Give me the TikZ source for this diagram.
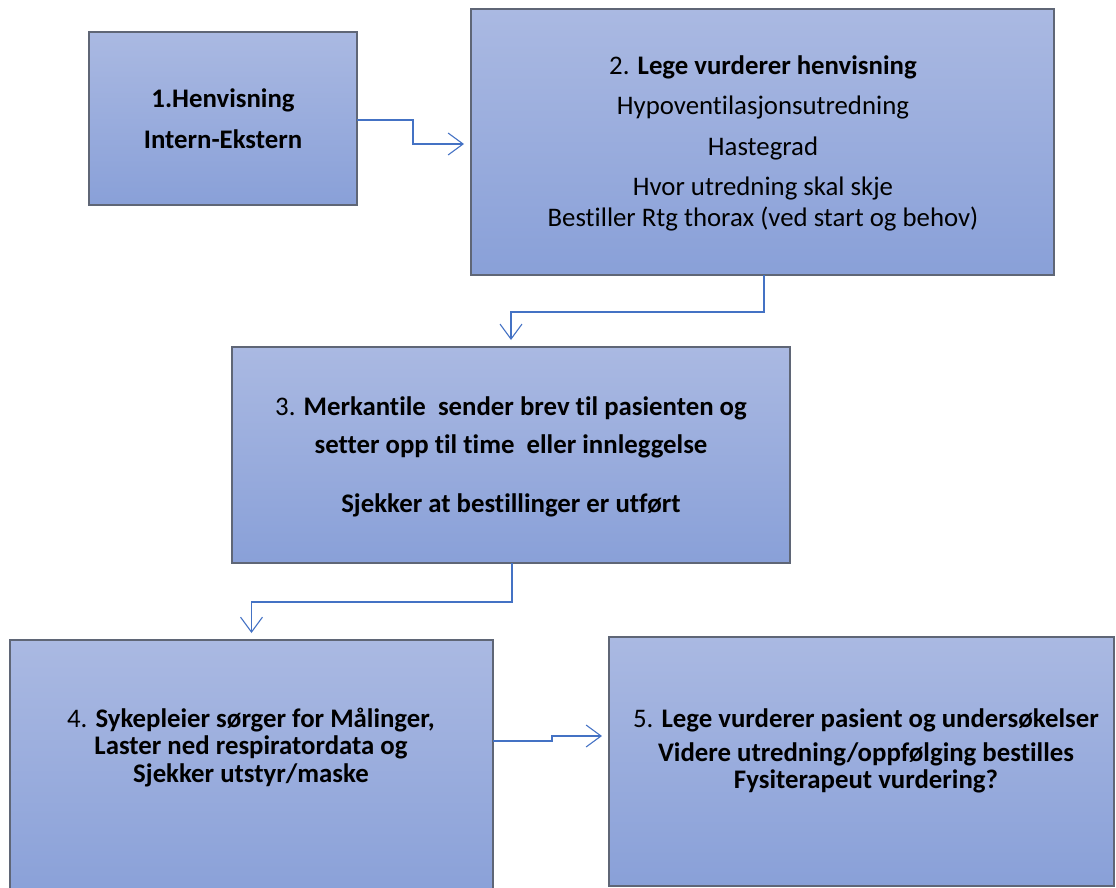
\documentclass[tikz,border=0pt]{standalone}
\usepackage{fontspec}
\setmainfont{Carlito}[RawFeature={-liga;-clig;-calt;-dlig}]
\usetikzlibrary{arrows.meta}
\definecolor{boxtop}{RGB}{170,185,226}
\definecolor{boxbot}{RGB}{137,160,216}
\definecolor{boxline}{RGB}{95,102,118}
\definecolor{conncol}{RGB}{68,114,196}
\tikzset{
  box/.style={draw=boxline, line width=1.4pt, top color=boxtop, bottom color=boxbot,
    inner sep=0pt, outer sep=0pt},
  txt/.style={font=\fontsize{26.8}{32}\selectfont, inner sep=0pt, anchor=center},
  conn/.style={draw=conncol, line width=1.1pt,
    -{Straight Barb[length=15pt,width=22pt,line width=1.1pt]}},
}
\begin{document}
\begin{tikzpicture}[x=1pt,y=-1pt]
\useasboundingbox (0,0) rectangle (1116,888);
% boxes
\node[box, minimum width=268pt, minimum height=173pt] (b1) at (223,118.5) {};
\node[box, minimum width=583pt, minimum height=266pt] (b2) at (762.5,142) {};
\node[box, minimum width=558pt, minimum height=216pt] (b3) at (511,455) {};
\node[box, minimum width=483pt, minimum height=262pt] (b4) at (251.5,771) {};
\node[box, minimum width=505pt, minimum height=249pt] (b5) at (861.5,761.5) {};
% texts
\node[txt] (t1a) at (223,100) {\bfseries 1.Henvisning};
\node[txt] (t1b) at (223,139) {\bfseries Intern-Ekstern};
\node[txt] (t2a) at (763,67) {2. \textbf{Lege vurderer henvisning}};
\node[txt] (t2b) at (763,107) {Hypoventilasjonsutredning};
\node[txt] (t2c) at (763,148) {Hastegrad};
\node[txt] (t2d) at (763,188) {Hvor utredning skal skje};
\node[txt] (t2e) at (763,219) {Bestiller Rtg thorax (ved start og behov)};
\node[txt] (t3a) at (511,408) {3. \textbf{Merkantile\ \ sender brev til pasienten og}};
\node[txt] (t3b) at (511,446) {\bfseries setter opp til time\ \ eller innleggelse};
\node[txt] (t3c) at (511,505) {\bfseries Sjekker at bestillinger er utført};
\node[txt] (t4a) at (251,720) {4. \textbf{Sykepleier sørger for Målinger,}};
\node[txt] (t4b) at (251,747) {\bfseries Laster ned respiratordata og};
\node[txt] (t4c) at (251,775) {\bfseries Sjekker utstyr/maske};
\node[txt] (t5a) at (866,720) {5. \textbf{Lege vurderer pasient og undersøkelser}};
\node[txt] (t5b) at (866,754) {\bfseries Videre utredning/oppfølging bestilles};
\node[txt] (t5c) at (866,781) {\bfseries Fysiterapeut vurdering?};
% connectors
\coordinate (c1) at (413,120);
\draw[conn] (b1.east |- c1) -- (c1) |- ([xshift=-7pt]b2.west |- 0,144);
\draw[conn] (b2.south -| 764,0) -- ++(0,37) -| ([yshift=7pt]b3.north);
\draw[conn] (b3.south -| 512,0) -- ++(0,39) -| ([yshift=7pt]b4.north);
\coordinate (c4) at (552,741);
\draw[conn] (b4.east |- c4) -- (c4) -- (552,736) -- ([xshift=-7pt]b5.west |- 0,736);
\end{tikzpicture}
\end{document}
